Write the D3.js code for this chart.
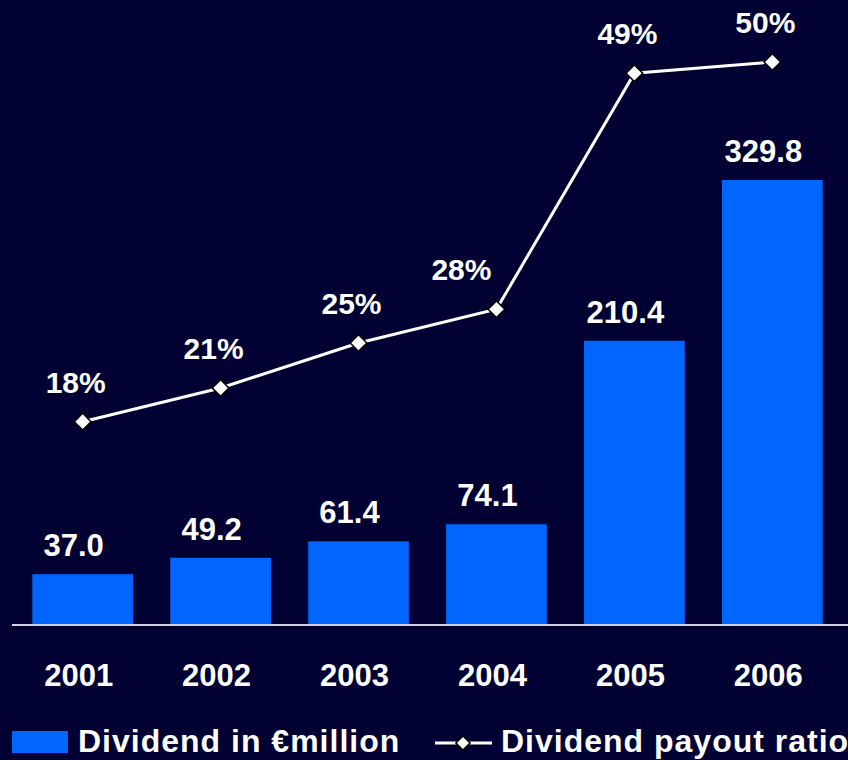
<!DOCTYPE html>
<html>
<head>
<meta charset="utf-8">
<script src="https://cdn.jsdelivr.net/npm/d3@7"></script>
<style>
  html, body { margin: 0; padding: 0; background: #000033; }
  svg { display: block; }
</style>
</head>
<body>
<svg id="chart"></svg>
<script>
// chart data
var years = ["2001", "2002", "2003", "2004", "2005", "2006"];
var dividend = [37.0, 49.2, 61.4, 74.1, 210.4, 329.8];
var payout = [18, 21, 25, 28, 49, 50];
var legendLabels = ["Dividend in \u20acmillion", "Dividend payout ratio"];

var W = 848, H = 760;
var font = "'Liberation Sans', Arial, sans-serif";

var svg = d3.select("#chart")
    .attr("width", W)
    .attr("height", H);

svg.append("rect")
    .attr("width", W)
    .attr("height", H)
    .attr("fill", "#000033");

var x = d3.scaleBand()
    .domain(years)
    .range([13, 842])
    .paddingInner(0.27)
    .paddingOuter(0.14);

var y = d3.scaleLinear().domain([0, 329.8]).range([624, 180]);
var y2 = d3.scaleLinear().domain([0, 50]).range([624, 62]);

function cx(i) { return x(years[i]) + x.bandwidth() / 2; }

// bars
svg.append("g")
    .selectAll("rect")
    .data(dividend)
    .enter()
    .append("rect")
      .attr("x", function (d, i) { return x(years[i]); })
      .attr("y", function (d) { return y(d); })
      .attr("width", x.bandwidth())
      .attr("height", function (d) { return y(0) - y(d); })
      .attr("fill", "#0066ff");

// baseline
svg.append("line")
    .attr("x1", 12)
    .attr("x2", W)
    .attr("y1", y(0) + 1)
    .attr("y2", y(0) + 1)
    .attr("stroke", "#d0d0d8")
    .attr("stroke-width", 2);

// bar value labels
svg.append("g")
    .selectAll("text")
    .data(dividend)
    .enter()
    .append("text")
      .attr("x", function (d, i) { return cx(i) - 9; })
      .attr("y", function (d) { return y(d) - 18; })
      .attr("text-anchor", "middle")
      .attr("fill", "white")
      .attr("font-family", font)
      .attr("font-weight", "bold")
      .attr("font-size", "31px")
      .text(function (d) { return d.toFixed(1); });

// year labels
svg.append("g")
    .selectAll("text")
    .data(years)
    .enter()
    .append("text")
      .attr("x", function (d, i) { return cx(i) - 4; })
      .attr("y", 686)
      .attr("text-anchor", "middle")
      .attr("fill", "white")
      .attr("font-family", font)
      .attr("font-weight", "bold")
      .attr("font-size", "31px")
      .text(function (d) { return d; });

// payout ratio line
var line = d3.line()
    .x(function (d, i) { return cx(i); })
    .y(function (d) { return y2(d); });

svg.append("path")
    .datum(payout)
    .attr("d", line)
    .attr("fill", "none")
    .attr("stroke", "white")
    .attr("stroke-width", 3);

var diamond = d3.symbol().type(d3.symbolSquare).size(140);

svg.append("g")
    .selectAll("path")
    .data(payout)
    .enter()
    .append("path")
      .attr("d", diamond)
      .attr("transform", function (d, i) {
          return "translate(" + cx(i) + "," + y2(d) + ") rotate(45)";
      })
      .attr("fill", "white")
      .attr("stroke", "black")
      .attr("stroke-width", 1.5);

// the 2004 label sits left of its point, clear of the steep segment
svg.append("g")
    .selectAll("text")
    .data(payout)
    .enter()
    .append("text")
      .attr("x", function (d, i) { return cx(i) - (i == 3 ? 35 : 7); })
      .attr("y", function (d) { return y2(d) - 29; })
      .attr("text-anchor", "middle")
      .attr("fill", "white")
      .attr("font-family", font)
      .attr("font-weight", "bold")
      .attr("font-size", "30px")
      .text(function (d) { return d + "%"; });

// legend
var lg = svg.append("g");

lg.append("rect")
    .attr("x", 12)
    .attr("y", 731)
    .attr("width", 56)
    .attr("height", 22)
    .attr("fill", "#0066ff");

lg.append("text")
    .attr("x", 78)
    .attr("y", 752)
    .attr("fill", "white")
    .attr("font-family", font)
    .attr("font-weight", "bold")
    .attr("font-size", "32px")
    .attr("letter-spacing", "1px")
    .text(legendLabels[0]);

lg.append("line")
    .attr("x1", 435)
    .attr("x2", 492)
    .attr("y1", 743)
    .attr("y2", 743)
    .attr("stroke", "white")
    .attr("stroke-width", 3);

lg.append("path")
    .attr("d", d3.symbol().type(d3.symbolSquare).size(100))
    .attr("transform", "translate(463,743) rotate(45)")
    .attr("fill", "white")
    .attr("stroke", "black")
    .attr("stroke-width", 1.5);

lg.append("text")
    .attr("x", 501)
    .attr("y", 752)
    .attr("fill", "white")
    .attr("font-family", font)
    .attr("font-weight", "bold")
    .attr("font-size", "32px")
    .attr("letter-spacing", "1px")
    .text(legendLabels[1]);
</script>
</body>
</html>
